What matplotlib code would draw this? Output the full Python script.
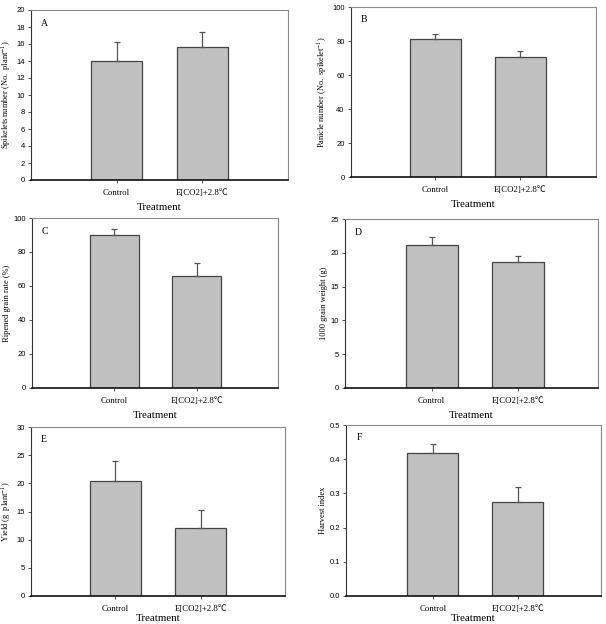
import matplotlib

matplotlib.use("Agg")

import matplotlib.pyplot as plt

plt.rcParams["mathtext.fontset"] = "stix"

treatments = ["Control", "E[CO2]+2.8\u2103"]
panel_letters = ["A", "B", "C", "D", "E", "F"]
ylabels = [
    r"Spikelets number (No.  plant$^{-1}$)",
    r"Panicle number (No.  spikelet$^{-1}$)",
    "Ripened grain rate (%)",
    "1000 grain weight (g)",
    r"Yield (g  plant$^{-1}$)",
    "Harvest index",
]
means = [
    [14.0, 15.6],
    [81.2, 70.4],
    [90.2, 65.7],
    [21.2, 18.7],
    [20.4, 12.1],
    [0.419, 0.274],
]
errors = [
    [2.2, 1.8],
    [3.1, 3.6],
    [3.3, 7.8],
    [1.2, 0.85],
    [3.6, 3.2],
    [0.024, 0.044],
]
yticks = [
    [0, 2, 4, 6, 8, 10, 12, 14, 16, 18, 20],
    [0, 20, 40, 60, 80, 100],
    [0, 20, 40, 60, 80, 100],
    [0, 5, 10, 15, 20, 25],
    [0, 5, 10, 15, 20, 25, 30],
    [0.0, 0.1, 0.2, 0.3, 0.4, 0.5],
]
ytick_fmt = ["{:d}", "{:d}", "{:d}", "{:d}", "{:d}", "{:.1f}"]

# axes boxes in pixels: left, top, right, bottom
boxes = [
    (31, 10, 288, 180),
    (351, 7, 596, 177),
    (32, 218, 278, 388),
    (345, 219, 598, 388),
    (31, 427, 285, 596),
    (346, 425, 601, 596),
]
xlims = [(0.0, 3.0), (0.01, 2.89), (0.0, 2.99), (0.0, 2.92), (0.01, 2.99), (-0.02, 2.98)]

W, H = 606, 624
serif = ["Liberation Serif", "Noto Sans CJK SC"]
sans = ["Liberation Sans", "DejaVu Sans"]

fig = plt.figure(figsize=(W / 100, H / 100), dpi=100)

for i in range(6):
    l, t, r, b = boxes[i]
    ax = fig.add_axes([l / W, 1 - b / H, (r - l) / W, (b - t) / H])
    xs = [1, 2]
    ax.bar(xs, means[i], width=0.6, color="#c0c0c0", edgecolor="#444444", linewidth=0.9, zorder=2)
    ax.errorbar(
        xs, means[i], yerr=[[0, 0], errors[i]], fmt="none",
        ecolor="#555555", elinewidth=0.9, capsize=2.2, capthick=0.9, zorder=3,
    )
    ax.set_xlim(*xlims[i])
    ax.set_ylim(yticks[i][0], yticks[i][-1])
    ax.set_yticks(yticks[i])
    ax.set_yticklabels([ytick_fmt[i].format(v) for v in yticks[i]], fontfamily=sans, fontsize=5.5)
    ax.set_xticks(xs)
    ax.set_xticklabels(treatments, fontfamily=serif, fontsize=6.3)
    ax.tick_params(axis="both", direction="out", length=2.5, width=0.6, color="#333333", pad=2)
    ax.tick_params(axis="x", pad=4)
    # bottom row: pull the label up a little so it stays inside the figure
    ax.set_xlabel("Treatment", fontfamily=serif, fontsize=7.8, labelpad=1 if i >= 4 else 4)
    ax.set_ylabel(ylabels[i], fontfamily=serif, fontsize=6, labelpad=1.5)
    for side in ["top", "right"]:
        ax.spines[side].set_color("#8a8a8a")
        ax.spines[side].set_linewidth(0.8)
    ax.spines["left"].set_color("#333333")
    ax.spines["left"].set_linewidth(0.8)
    ax.spines["bottom"].set_color("#111111")
    ax.spines["bottom"].set_linewidth(1.2)
    ax.text(13 / (r - l), 1 - 13 / (b - t), panel_letters[i], transform=ax.transAxes,
            fontfamily=serif, fontsize=7, ha="center", va="center")

fig.savefig("out.png", dpi=100)
